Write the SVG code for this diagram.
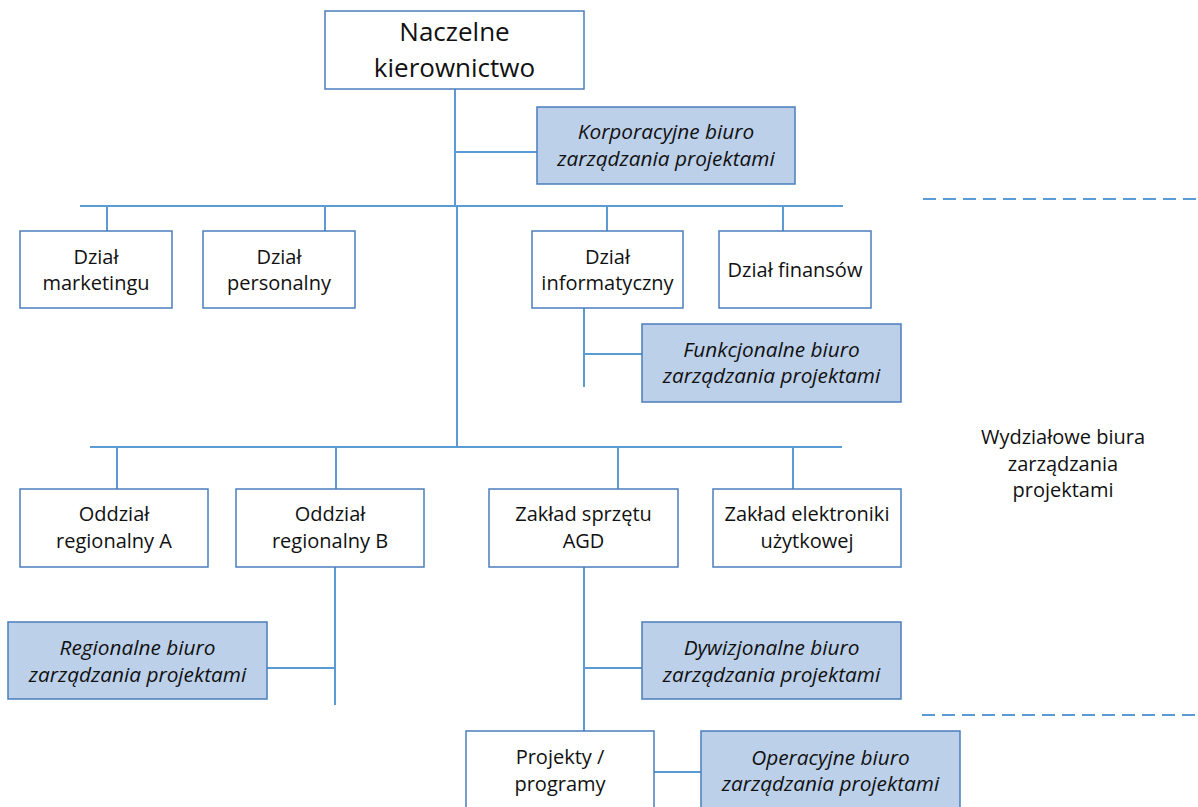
<svg xmlns="http://www.w3.org/2000/svg" width="1198" height="807" viewBox="0 0 1198 807">
<style>
.box{fill:#ffffff;stroke:#4A7EBB;stroke-width:1.5}
.pmo{fill:#BCD0EA;stroke:#4A7EBB;stroke-width:1.5}
.t{font-family:"Open Sans",Lato,sans-serif;font-size:20px;fill:#111;text-anchor:middle}
.ti{font-family:"Open Sans",Lato,sans-serif;font-size:20.8px;font-style:italic;fill:#111;text-anchor:middle}
.big{font-size:26px}
.ln{stroke:#5B9BD5;stroke-width:2;fill:none}
.dash{stroke:#5B9BD5;stroke-width:2;fill:none;stroke-dasharray:13 7}
</style>
<rect width="1198" height="807" fill="#ffffff"/>
<g id="connectors">
<path class="ln" d="M455 89V207M457 206V447M455 152H537"/>
<path class="ln" d="M80 206H843M107 206V231M325 206V231M607 206V231M783 206V231"/>
<path class="ln" d="M584 308V387M584 354H642"/>
<path class="ln" d="M90 447H842M117 447V489M336 447V489M618 447V489M793 447V489"/>
<path class="ln" d="M335 567V705M267 668H335"/>
<path class="ln" d="M584 567V731M584 668H642"/>
<path class="ln" d="M654 772H701"/>
<path class="dash" d="M923 199H1198"/>
<path class="dash" d="M922 715H1198"/>
</g>
<g id="naczelne"><rect class="box" x="325" y="11" width="259" height="78"/><text class="t big" x="454.5" y="41">Naczelne</text><text class="t big" x="454.5" y="77">kierownictwo</text></g>
<g id="korporacyjne"><rect class="pmo" x="537" y="107" width="258" height="77"/><text class="ti" x="666" y="139">Korporacyjne biuro</text><text class="ti" x="666" y="166">zarządzania projektami</text></g>
<g id="marketing"><rect class="box" x="20" y="231" width="152" height="77"/><text class="t" x="96" y="264">Dział</text><text class="t" x="96" y="290">marketingu</text></g>
<g id="personalny"><rect class="box" x="203" y="231" width="152" height="77"/><text class="t" x="279" y="264">Dział</text><text class="t" x="279" y="290">personalny</text></g>
<g id="informatyczny"><rect class="box" x="532" y="231" width="151" height="77"/><text class="t" x="607.5" y="264">Dział</text><text class="t" x="607.5" y="290">informatyczny</text></g>
<g id="finansow"><rect class="box" x="719" y="231" width="152" height="77"/><text class="t" x="795" y="277">Dział finansów</text></g>
<g id="funkcjonalne"><rect class="pmo" x="642" y="324" width="259" height="78"/><text class="ti" x="771.5" y="357">Funkcjonalne biuro</text><text class="ti" x="771.5" y="383">zarządzania projektami</text></g>
<g id="wydzialowe"><text class="t" x="1063" y="444">Wydziałowe biura</text><text class="t" x="1063" y="471">zarządzania</text><text class="t" x="1063" y="497">projektami</text></g>
<g id="oddzialA"><rect class="box" x="20" y="489" width="188" height="78"/><text class="t" x="114" y="521">Oddział</text><text class="t" x="114" y="548">regionalny A</text></g>
<g id="oddzialB"><rect class="box" x="236" y="489" width="188" height="78"/><text class="t" x="330" y="521">Oddział</text><text class="t" x="330" y="548">regionalny B</text></g>
<g id="agd"><rect class="box" x="489" y="489" width="189" height="78"/><text class="t" x="583.5" y="521">Zakład sprzętu</text><text class="t" x="583.5" y="548">AGD</text></g>
<g id="elektronika"><rect class="box" x="713" y="489" width="188" height="78"/><text class="t" x="807" y="521">Zakład elektroniki</text><text class="t" x="807" y="548">użytkowej</text></g>
<g id="regionalne"><rect class="pmo" x="8" y="622" width="259" height="77"/><text class="ti" x="137.5" y="655">Regionalne biuro</text><text class="ti" x="137.5" y="682">zarządzania projektami</text></g>
<g id="dywizjonalne"><rect class="pmo" x="642" y="622" width="259" height="77"/><text class="ti" x="771.5" y="655">Dywizjonalne biuro</text><text class="ti" x="771.5" y="682">zarządzania projektami</text></g>
<g id="projekty"><rect class="box" x="466" y="731" width="188" height="80"/><text class="t" x="560" y="764">Projekty /</text><text class="t" x="560" y="791">programy</text></g>
<g id="operacyjne"><rect class="pmo" x="701" y="731" width="259" height="80"/><text class="ti" x="830.5" y="765">Operacyjne biuro</text><text class="ti" x="830.5" y="791">zarządzania projektami</text></g>
</svg>
